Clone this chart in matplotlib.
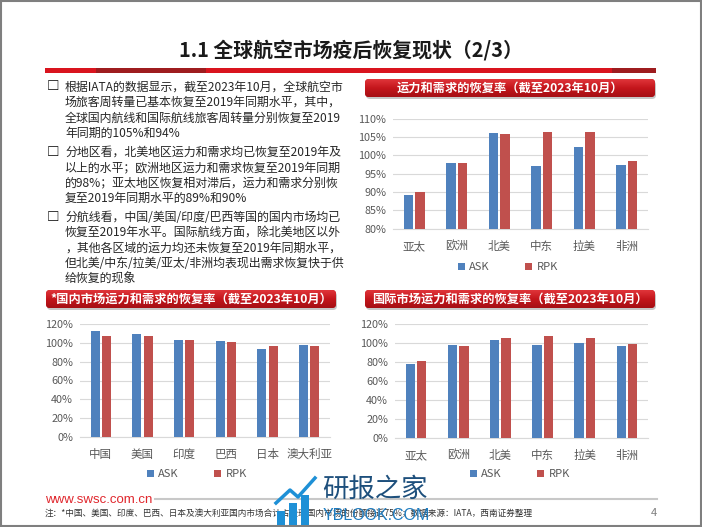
import matplotlib
matplotlib.use('Agg')
import matplotlib.pyplot as plt
from matplotlib.patches import Rectangle, FancyBboxPatch
from matplotlib.colors import LinearSegmentedColormap
import numpy as np

plt.rcParams['font.family'] = ['Noto Sans CJK SC', 'DejaVu Sans']

# ---------------- data ----------------
regions = ['亚太', '欧洲', '北美', '中东', '拉美', '非洲']
total_ask = [89.2, 97.9, 106.1, 97.0, 102.4, 97.4]
total_rpk = [90.0, 97.8, 105.9, 106.3, 106.5, 98.5]

domestic_markets = ['中国', '美国', '印度', '巴西', '日本', '澳大利亚']
dom_ask = [112.9, 109.0, 103.0, 102.2, 93.0, 97.6]
dom_rpk = [106.9, 107.6, 103.0, 101.2, 96.2, 96.9]

intl_ask = [78.0, 98.0, 103.2, 98.0, 100.4, 97.0]
intl_rpk = [81.0, 97.3, 105.7, 107.4, 105.0, 98.7]

series_names = ['ASK', 'RPK']
top_ticks = [80, 85, 90, 95, 100, 105, 110]
bottom_ticks = [0, 20, 40, 60, 80, 100, 120]

title = '1.1 全球航空市场疫后恢复现状（2/3）'
chart_titles = ['运力和需求的恢复率（截至2023年10月）',
                '*国内市场运力和需求的恢复率（截至2023年10月）',
                '国际市场运力和需求的恢复率（截至2023年10月）']
bullets = [
    ['根据IATA的数据显示，截至2023年10月，全球航空市',
     '场旅客周转量已基本恢复至2019年同期水平，其中，',
     '全球国内航线和国际航线旅客周转量分别恢复至2019',
     '年同期的105%和94%'],
    ['分地区看，北美地区运力和需求均已恢复至2019年及',
     '以上的水平；欧洲地区运力和需求恢复至2019年同期',
     '的98%；亚太地区恢复相对滞后，运力和需求分别恢',
     '复至2019年同期水平的89%和90%'],
    ['分航线看，中国/美国/印度/巴西等国的国内市场均已',
     '恢复至2019年水平。国际航线方面，除北美地区以外',
     '，其他各区域的运力均还未恢复至2019年同期水平，',
     '但北美/中东/拉美/亚太/非洲均表现出需求恢复快于供',
     '给恢复的现象'],
]
note = '注：*中国、美国、印度、巴西、日本及澳大利亚国内市场合计占全球国内市场的份额接近75%；数据来源：IATA，西南证券整理'

BLUE = '#4F81BD'
RED = '#C0504D'
W, H = 702, 527

fig = plt.figure(figsize=(W / 100, H / 100), dpi=100)
fig.patch.set_facecolor('white')

bg = fig.add_axes([0, 0, 1, 1], zorder=-1)
bg.set_xlim(0, W)
bg.set_ylim(H, 0)
bg.axis('off')

# slide border
bg.add_patch(Rectangle((1, 1), W - 2.5, H - 2.5, fill=False, ec='#7f7f7f', lw=1.5))

# title
bg.text(351, 50, title, ha='center', va='center', fontsize=14.3, fontweight='bold', color='#1a1a1a')
# red header bar
bg.add_patch(Rectangle((45, 68), 611, 5, color='#d9141e', lw=0))
bg.add_patch(Rectangle((96, 68), 110, 5, color='#9e1c1f', lw=0))
bg.add_patch(Rectangle((612, 68), 44, 5, color='#9e1c1f', lw=0))

# bullet text
y = 87
for para in bullets:
    bg.text(47, y, '□', ha='left', va='center', fontsize=9, fontweight='bold', color='black')
    for line in para:
        bg.text(65, y, line, ha='left', va='center', fontsize=8.6, color='#262626')
        y += 15.4
    y += 3.5

# banners
cmap_banner = LinearSegmentedColormap.from_list('b', ['#e0353a', '#c4161c', '#a50f14'])


def banner(x0, y0, x1, y1, text):
    sh = FancyBboxPatch((x0 + 1, y0 + 2), x1 - x0, y1 - y0,
                        boxstyle='round,pad=0,rounding_size=4', fc='#b0b0b0', ec='none', alpha=0.7)
    bg.add_patch(sh)
    p = FancyBboxPatch((x0, y0), x1 - x0, y1 - y0,
                       boxstyle='round,pad=0,rounding_size=4', fc='#c4161c', ec='none')
    bg.add_patch(p)
    grad = np.linspace(0, 1, 50).reshape(-1, 1)
    im = bg.imshow(grad, cmap=cmap_banner, extent=(x0, x1, y1, y0), aspect='auto', zorder=2)
    im.set_clip_path(p)
    bg.text((x0 + x1) / 2, (y0 + y1) / 2, text, ha='center', va='center',
            fontsize=8.8, fontweight='bold', color='white', zorder=3)


banner(365, 79, 655, 97, chart_titles[0])
banner(46, 290, 336, 308, chart_titles[1])
banner(365, 290, 655, 308, chart_titles[2])


def bar_chart(rect_px, cats, ask, rpk, ylim, ticks, legend_center, bw=0.22, off=0.135):
    x0, y0, x1, y1 = rect_px
    ax = fig.add_axes([x0 / W, 1 - y1 / H, (x1 - x0) / W, (y1 - y0) / H])
    x = np.arange(len(cats))
    ax.bar(x - off, ask, bw, color=BLUE, label=series_names[0], zorder=3)
    ax.bar(x + off, rpk, bw, color=RED, label=series_names[1], zorder=3)
    ax.set_xlim(-0.5, len(cats) - 0.5)
    ax.set_ylim(*ylim)
    ax.set_yticks(ticks)
    ax.set_yticklabels([f'{t}%' for t in ticks])
    ax.set_xticks(x)
    ax.set_xticklabels(cats)
    ax.grid(axis='y', color='#d9d9d9', lw=0.8, zorder=0)
    for s in ['top', 'right', 'left']:
        ax.spines[s].set_visible(False)
    ax.spines['bottom'].set_color('#d9d9d9')
    ax.tick_params(axis='both', length=0, colors='#595959', labelsize=7.8)
    ax.tick_params(axis='x', pad=8, labelsize=8.3)
    ax.tick_params(axis='y', pad=5)
    ax.patch.set_alpha(0)
    lx, ly = legend_center
    ax.legend(loc='center', bbox_to_anchor=(lx / W, 1 - ly / H), bbox_transform=fig.transFigure,
              ncol=2, frameon=False, fontsize=8, handlelength=0.6, handleheight=0.6,
              handletextpad=0.4, columnspacing=3.2, labelcolor='#595959')
    return ax


bar_chart((393, 118.7, 648, 228.7), regions, total_ask, total_rpk, (80, 110), top_ticks, (508, 267))
bar_chart((80, 324, 330, 437), domestic_markets, dom_ask, dom_rpk, (0, 120), bottom_ticks, (197, 474))
bar_chart((395, 324, 648, 438), regions, intl_ask, intl_rpk, (0, 120), bottom_ticks, (520, 474))

# footer
bg.text(45, 500, 'www.swsc.com.cn', ha='left', va='center', fontsize=9.5, color='#e0262c',
        family=['Liberation Sans', 'DejaVu Sans'])
bg.plot([155, 657], [499, 499], color='#c8c8c8', lw=1.5)
bg.text(45, 513, note, ha='left', va='center', fontsize=6.2, color='#333333')
bg.text(657, 513, '4', ha='right', va='center', fontsize=8, color='#7f7f7f')

# watermark overlay
ov = fig.add_axes([0, 0, 1, 1], zorder=10)
ov.set_xlim(0, W)
ov.set_ylim(H, 0)
ov.axis('off')
ov.patch.set_alpha(0)
for bx, bh in [(277, 14), (289, 22), (301, 30)]:
    ov.add_patch(Rectangle((bx, 527 - bh - 2), 8, bh, color='#1e90d6', lw=0))
ov.plot([276, 290, 298, 315], [503, 490, 497, 478], color='#1e90d6', lw=2.5)
ov.text(322, 489, '研报之家', ha='left', va='center', fontsize=19, color='#1d4f7c')
ov.text(323, 515, 'YBLOOK.COM', ha='left', va='center', fontsize=11.5, color='#1e7cc0',
        family=['Liberation Sans', 'DejaVu Sans'])

fig.savefig('out.png', dpi=100, facecolor='white')
